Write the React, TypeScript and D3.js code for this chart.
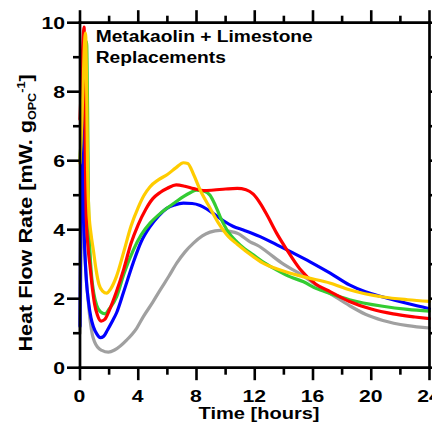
import React from "react";
import * as d3 from "d3";

// ---- data (time in hours, heat flow in mW/g OPC) ----
const grayTime = [0, 0.1, 0.2, 0.3, 0.45, 0.57, 0.7, 0.85, 1.0, 1.2, 1.5, 1.95, 2.4, 3.2, 3.9, 4.35, 5.0, 5.5, 6.1, 6.64, 7.2, 7.79, 8.4, 8.93, 9.62, 10.3, 10.8, 11.68, 12.3, 12.83, 13.97, 15.12, 16.2, 17.18, 18.5, 19.6, 20.8, 22.5, 24];
const grayFlow = [1.0, 4.0, 4.5, 3.5, 2.5, 1.9, 1.35, 0.95, 0.75, 0.6, 0.5, 0.45, 0.52, 0.8, 1.15, 1.48, 1.9, 2.25, 2.65, 3.03, 3.35, 3.61, 3.82, 3.93, 3.98, 3.95, 3.9, 3.65, 3.52, 3.36, 3.0, 2.72, 2.4, 2.15, 1.8, 1.55, 1.37, 1.22, 1.15];

const blueTime = [0, 0.04, 0.1, 0.14, 0.19, 0.25, 0.35, 0.45, 0.57, 0.75, 0.92, 1.15, 1.4, 1.6, 1.9, 2.2, 2.52, 3.0, 3.66, 4.2, 4.81, 5.4, 5.96, 6.5, 7.1, 7.7, 8.25, 8.7, 9.16, 9.85, 10.5, 11.22, 11.8, 12.37, 13.52, 14.66, 15.8, 17.18, 18.5, 19.6, 20.8, 22.5, 24];
const blueFlow = [1.2, 4.0, 7.0, 7.5, 6.3, 4.5, 3.2, 2.45, 1.96, 1.45, 1.19, 0.98, 0.87, 0.9, 1.1, 1.33, 1.6, 2.2, 3.05, 3.65, 4.09, 4.4, 4.62, 4.72, 4.77, 4.76, 4.7, 4.6, 4.47, 4.26, 4.1, 3.99, 3.9, 3.8, 3.56, 3.32, 3.07, 2.74, 2.4, 2.2, 2.05, 1.86, 1.71];

const greenTime = [0, 0.15, 0.3, 0.45, 0.52, 0.58, 0.68, 0.8, 0.95, 1.15, 1.4, 1.72, 2.0, 2.52, 3.0, 3.66, 4.2, 4.81, 5.4, 5.96, 6.5, 7.1, 7.6, 8.0, 8.5, 8.93, 9.3, 9.62, 10.2, 10.77, 11.3, 11.9, 12.7, 13.52, 14.4, 15.35, 16.2, 17.18, 18.5, 20.8, 22.5, 24];
const greenFlow = [6.0, 7.3, 8.6, 9.45, 7.5, 4.8, 3.4, 2.64, 2.15, 1.8, 1.62, 1.56, 1.7, 2.06, 2.7, 3.41, 3.85, 4.19, 4.43, 4.62, 4.78, 4.96, 5.08, 5.15, 5.12, 5.0, 4.7, 4.38, 3.92, 3.65, 3.45, 3.27, 3.03, 2.83, 2.64, 2.49, 2.3, 2.15, 1.97, 1.78, 1.69, 1.64];

const redTime = [0, 0.1, 0.2, 0.28, 0.36, 0.42, 0.55, 0.7, 0.85, 1.0, 1.2, 1.45, 1.7, 2.0, 2.5, 3.0, 3.5, 4.0, 4.5, 5.0, 5.5, 6.0, 6.6, 7.2, 7.8, 8.5, 9.2, 10, 10.8, 11.4, 11.9, 12.4, 12.9, 13.5, 14.2, 15.1, 16.2, 17.2, 18.5, 20, 21.5, 23, 24];
const redFlow = [7.2, 8.3, 9.4, 9.87, 6.5, 4.5, 3.5, 2.9, 2.3, 1.85, 1.52, 1.35, 1.4, 1.65, 2.2, 2.85, 3.6, 4.15, 4.58, 4.9, 5.08, 5.2, 5.3, 5.26, 5.19, 5.13, 5.15, 5.18, 5.2, 5.16, 5.03, 4.75, 4.38, 3.9, 3.42, 2.86, 2.42, 2.2, 1.92, 1.7, 1.56, 1.47, 1.42];

const yellowTime = [0, 0.1, 0.2, 0.3, 0.38, 0.46, 0.52, 0.6, 0.75, 0.92, 1.1, 1.3, 1.55, 1.83, 2.1, 2.5, 3.0, 3.5, 4.0, 4.4, 4.8, 5.4, 6.0, 6.6, 7.1, 7.4, 7.8, 8.25, 8.9, 9.5, 10.2, 10.8, 11.9, 12.7, 13.5, 15.3, 17.2, 18.5, 20.8, 22.5, 24];
const yellowFlow = [5.93, 6.9, 8.0, 9.3, 9.7, 8.0, 5.8, 4.6, 3.9, 3.4, 2.85, 2.42, 2.22, 2.16, 2.28, 2.64, 3.35, 4.1, 4.65, 5.0, 5.24, 5.45, 5.6, 5.8, 5.94, 5.92, 5.6, 5.15, 4.65, 4.2, 3.8, 3.58, 3.22, 3.0, 2.87, 2.64, 2.45, 2.26, 2.05, 1.97, 1.92];

const xTicks = [0, 2, 4, 6, 8, 10, 12, 14, 16, 18, 20, 22, 24];
const xLabels = [0, 4, 8, 12, 16, 20, 24];
const yTicks = [0, 1, 2, 3, 4, 5, 6, 7, 8, 9, 10];
const yLabels = [0, 2, 4, 6, 8, 10];

const series = [
  { name: "gray", time: grayTime, flow: grayFlow, color: "#a0a0a0" },
  { name: "blue", time: blueTime, flow: blueFlow, color: "#0000ff" },
  { name: "green", time: greenTime, flow: greenFlow, color: "#33cc33" },
  { name: "red", time: redTime, flow: redFlow, color: "#ff0000" },
  { name: "yellow", time: yellowTime, flow: yellowFlow, color: "#ffcc00" },
];

const FONT = "'Liberation Sans', Arial, Helvetica, sans-serif";

export default function App() {
  const W = 432, H = 425;
  const x = d3.scaleLinear().domain([0, 24]).range([80, 429.5]);
  const y = d3.scaleLinear().domain([0, 10]).range([367.7, 22.7]);
  const line = d3
    .line<[number, number]>()
    .x((d) => x(d[0]))
    .y((d) => y(d[1]))
    .curve(d3.curveMonotoneX);

  const x0 = x(0), x1 = x(24), y0 = y(0), y1 = y(10);
  const axisW = 2.7;

  return (
    <svg
      width={W}
      height={H}
      style={{ position: "absolute", left: 0, top: 0, display: "block", background: "#fff" }}
      fontFamily={FONT}
    >
      <rect x={0} y={0} width={W} height={H} fill="#fff" />
      {/* curves */}
      {series.map((s) => (
        <path
          key={s.name}
          d={line(s.time.map((t, i) => [t, s.flow[i]] as [number, number])) || ""}
          fill="none"
          stroke={s.color}
          strokeWidth={3.2}
          strokeLinejoin="round"
          strokeLinecap="round"
        />
      ))}
      {/* frame */}
      <g stroke="#000" strokeWidth={axisW} strokeLinecap="square" fill="none">
        <line x1={x0} y1={y0} x2={x1} y2={y0} />
        <line x1={x0} y1={y1} x2={x1} y2={y1} />
        <line x1={x0} y1={y0} x2={x0} y2={y1} />
        <line x1={x1} y1={y0} x2={x1} y2={y1} />
      </g>
      {/* ticks */}
      <g stroke="#000" strokeWidth={2.6}>
        {xTicks.map((t) => {
          const len = t % 4 === 0 ? 12.5 : 7;
          return (
            <g key={"xt" + t}>
              <line x1={x(t)} x2={x(t)} y1={y0} y2={y0 + len} />
              <line x1={x(t)} x2={x(t)} y1={y1} y2={y1 - len} />
            </g>
          );
        })}
        {yTicks.map((t) => {
          const len = t % 2 === 0 ? 13 : 7;
          return (
            <g key={"yt" + t}>
              <line x1={x0} x2={x0 - len} y1={y(t)} y2={y(t)} />
              <line x1={x1} x2={x1 + len} y1={y(t)} y2={y(t)} />
            </g>
          );
        })}
      </g>
      {/* tick labels */}
      <g fontWeight="bold" fontSize={16.3} fill="#000">
        {xLabels.map((t) => (
          <text
            key={"xl" + t}
            transform={`translate(${x(t) - 0.5},402) scale(1.3,1)`}
            textAnchor="middle"
          >
            {t}
          </text>
        ))}
        {yLabels.map((t) => (
          <text
            key={"yl" + t}
            transform={`translate(65,${y(t) + 6.3}) scale(1.3,1)`}
            textAnchor="end"
          >
            {t}
          </text>
        ))}
      </g>
      {/* axis titles */}
      <text
        transform="translate(259,418.5) scale(1.18,1)"
        textAnchor="middle"
        fontWeight="bold"
        fontSize={17}
        fill="#000"
      >
        Time [hours]
      </text>
      <text
        transform="translate(31.5,213) rotate(-90) scale(1.2,1)"
        textAnchor="middle"
        fontWeight="bold"
        fontSize={18}
        fill="#000"
      >
        Heat Flow Rate [mW. g
        <tspan fontSize={10.5} dy={4}>OPC</tspan>
        <tspan fontSize={10.5} dy={-11}>-1</tspan>
        <tspan dy={7}>]</tspan>
      </text>
      {/* annotation */}
      <g fontWeight="bold" fontSize={17} fill="#000">
        <text transform="translate(95.7,41.7) scale(1.13,1)">Metakaolin + Limestone</text>
        <text transform="translate(95.7,63.3) scale(1.13,1)">Replacements</text>
      </g>
    </svg>
  );
}
